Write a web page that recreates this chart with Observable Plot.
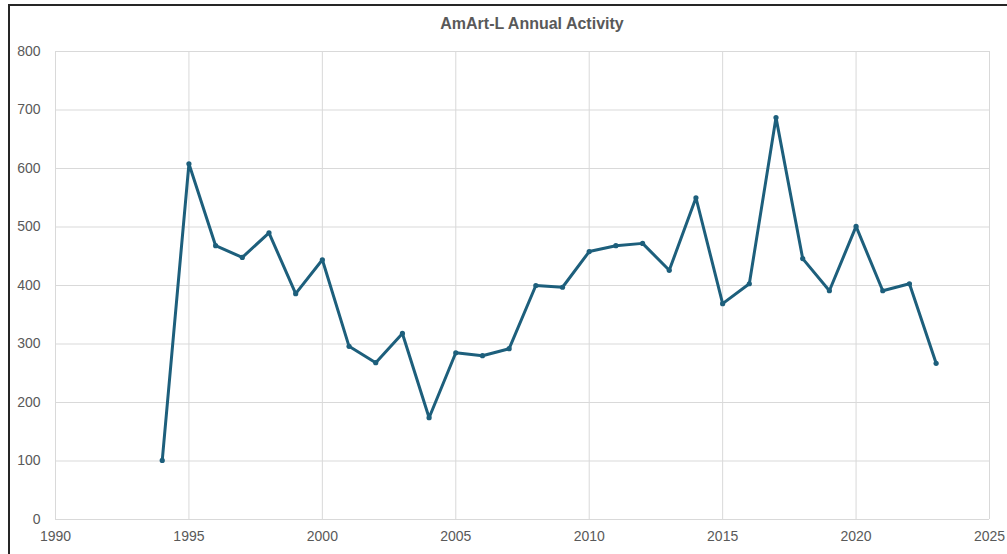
<!DOCTYPE html>
<html>
<head>
<meta charset="utf-8">
<script src="https://cdn.jsdelivr.net/npm/d3@7"></script>
<script src="https://cdn.jsdelivr.net/npm/@observablehq/plot@0.6"></script>
<style>
  html, body { margin: 0; padding: 0; background: #fff; }
  #wrap { position: relative; width: 1007px; height: 554px; overflow: hidden; background: #fff; }
  #frame { position: absolute; left: 8px; top: 4px; width: 1100px; height: 700px;
           border-left: 2px solid #262626; border-top: 2px solid #262626; box-sizing: border-box; }
  #title { position: absolute; left: 0; top: 0; width: 1064px; height: 40px; line-height: 48px;
           text-align: center; font-family: "Liberation Sans Narrow", "Arial Narrow", "Liberation Sans", sans-serif;
           font-weight: bold; font-size: 16px; color: #595959; }
  #chart { position: absolute; left: 0; top: 40px; }
</style>
</head>
<body>
<div id="wrap">
  <div id="frame"></div>
  <div id="title">AmArt-L Annual Activity</div>
  <div id="chart"></div>
</div>
<script>
const years = [1994, 1995, 1996, 1997, 1998, 1999, 2000, 2001, 2002, 2003,
               2004, 2005, 2006, 2007, 2008, 2009, 2010, 2011, 2012, 2013,
               2014, 2015, 2016, 2017, 2018, 2019, 2020, 2021, 2022, 2023];
const activity = [101, 608, 468, 448, 490, 386, 444, 296, 268, 318,
                  174, 285, 280, 292, 400, 397, 458, 468, 472, 426,
                  550, 369, 403, 687, 446, 391, 501, 391, 403, 267];
const xTicks = [1990, 1995, 2000, 2005, 2010, 2015, 2020, 2025];
const yTicks = [0, 100, 200, 300, 400, 500, 600, 700, 800];

const data = years.map((y, i) => ({year: y, value: activity[i]}));
const lineColor = "#1d5f7c";

const chart = Plot.plot({
  width: 1007,
  height: 514,
  marginTop: 11,
  marginBottom: 35,
  marginLeft: 55,
  marginRight: 18,
  style: {fontFamily: '"Liberation Sans Narrow", "Arial Narrow", "Liberation Sans", sans-serif', fontSize: "14px", color: "#595959", background: "transparent"},
  x: {domain: [1990, 2025], ticks: xTicks, tickFormat: d => String(d), tickSize: 0, tickPadding: 12, label: null},
  y: {domain: [0, 800], ticks: yTicks, tickSize: 0, tickPadding: 15, label: null},
  marks: [
    Plot.gridX(xTicks, {stroke: "#d9d9d9", strokeOpacity: 1, strokeWidth: 1}),
    Plot.gridY(yTicks, {stroke: "#d9d9d9", strokeOpacity: 1, strokeWidth: 1}),
    Plot.axisX({ticks: xTicks, tickFormat: d => String(d), tickSize: 0, tickPadding: 12, fill: "#595959"}),
    Plot.axisY({ticks: yTicks, tickSize: 0, tickPadding: 15, fill: "#595959"}),
    Plot.line(data, {x: "year", y: "value", stroke: lineColor, strokeWidth: 3, strokeLinejoin: "round"}),
    Plot.dot(data, {x: "year", y: "value", fill: lineColor, r: 2.6})
  ]
});
document.getElementById("chart").appendChild(chart);
</script>
</body>
</html>
